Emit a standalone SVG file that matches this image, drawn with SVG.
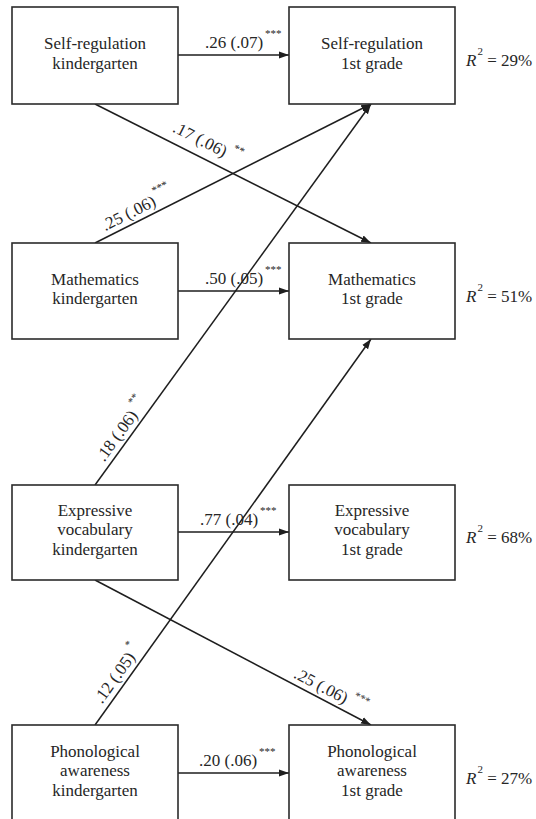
<svg xmlns="http://www.w3.org/2000/svg" width="536" height="819" viewBox="0 0 536 819">
<style>
.box{fill:#fff;stroke:#2b2b2b;stroke-width:1.6}
.t{font-family:'Liberation Serif',Tinos,'Times New Roman',Times,serif;font-size:17px;fill:#262626;text-anchor:middle}
.c{font-family:'Liberation Serif',Tinos,'Times New Roman',Times,serif;font-size:17px;fill:#262626}
.s{font-size:11px}
.i{font-style:italic}
.e{stroke:#1e1e1e;stroke-width:1.5;fill:none;marker-end:url(#ah)}
</style>
<defs>
<marker id="ah" markerUnits="userSpaceOnUse" markerWidth="11" markerHeight="9" refX="10" refY="4.5" orient="auto"><path d="M0,1 L10,4.5 L0,8z" fill="#1e1e1e"/></marker>
</defs>
<rect width="536" height="819" fill="#fff"/>

<g id="connectors">
<line class="e" x1="178" y1="55" x2="289" y2="55"/>
<line class="e" x1="178" y1="291" x2="289" y2="291"/>
<line class="e" x1="178" y1="532" x2="289" y2="532"/>
<line class="e" x1="178" y1="773" x2="289" y2="773"/>
<line class="e" x1="95" y1="104" x2="371" y2="243"/>
<line class="e" x1="95" y1="243" x2="371" y2="104"/>
<line class="e" x1="95" y1="485" x2="371" y2="104"/>
<line class="e" x1="95" y1="725" x2="371" y2="339"/>
<line class="e" x1="95" y1="580" x2="371" y2="725"/>
<text class="c" x="205" y="48">.26 (.07)<tspan class="s" dx="2" dy="-11">***</tspan></text>
<text class="c" x="205" y="284">.50 (.05)<tspan class="s" dx="2" dy="-11">***</tspan></text>
<text class="c" x="200" y="525">.77 (.04)<tspan class="s" dx="2" dy="-11">***</tspan></text>
<text class="c" x="199" y="766">.20 (.06)<tspan class="s" dx="2" dy="-11">***</tspan></text>
<text class="c" transform="translate(169,136.5) rotate(26.73)" x="0" y="-6">.17 (.06)<tspan class="s" dx="5" dy="-10">**</tspan></text>
<text class="c" transform="translate(108,236.5) rotate(-26.73)" x="0" y="-6">.25 (.06)<tspan class="s" dx="2" dy="-11">***</tspan></text>
<text class="c" transform="translate(109,466) rotate(-54.08)" x="0" y="-6">.18 (.06)<tspan class="s" dx="5" dy="-10">**</tspan></text>
<text class="c" transform="translate(107,708) rotate(-54.44)" x="0" y="-6">.12 (.05)<tspan class="s" dx="4" dy="-10">*</tspan></text>
<text class="c" transform="translate(290,682.5) rotate(27.72)" x="0" y="-6">.25 (.06)<tspan class="s" dx="5" dy="-10">***</tspan></text>
</g>

<g id="sr_k">
<rect class="box" x="12" y="7" width="166" height="97"/>
<text class="t" x="95" y="49">Self-regulation</text>
<text class="t" x="95" y="68.5">kindergarten</text>
</g>
<g id="sr_1">
<rect class="box" x="289" y="7" width="166" height="97"/>
<text class="t" x="372" y="49">Self-regulation</text>
<text class="t" x="372" y="68.5">1st grade</text>
<text class="c" x="466" y="66"><tspan class="i">R</tspan><tspan class="s" dx="1" dy="-11">2</tspan><tspan dy="11"> = 29%</tspan></text>
</g>
<g id="m_k">
<rect class="box" x="12" y="243" width="166" height="96"/>
<text class="t" x="95" y="284.5">Mathematics</text>
<text class="t" x="95" y="304">kindergarten</text>
</g>
<g id="m_1">
<rect class="box" x="289" y="243" width="166" height="96"/>
<text class="t" x="372" y="284.5">Mathematics</text>
<text class="t" x="372" y="304">1st grade</text>
<text class="c" x="466" y="302"><tspan class="i">R</tspan><tspan class="s" dx="1" dy="-11">2</tspan><tspan dy="11"> = 51%</tspan></text>
</g>
<g id="ev_k">
<rect class="box" x="12" y="485" width="166" height="95"/>
<text class="t" x="95" y="515.5">Expressive</text>
<text class="t" x="95" y="535">vocabulary</text>
<text class="t" x="95" y="554.5">kindergarten</text>
</g>
<g id="ev_1">
<rect class="box" x="289" y="485" width="166" height="95"/>
<text class="t" x="372" y="515.5">Expressive</text>
<text class="t" x="372" y="535">vocabulary</text>
<text class="t" x="372" y="554.5">1st grade</text>
<text class="c" x="466" y="543"><tspan class="i">R</tspan><tspan class="s" dx="1" dy="-11">2</tspan><tspan dy="11"> = 68%</tspan></text>
</g>
<g id="pa_k">
<rect class="box" x="12" y="725" width="166" height="97"/>
<text class="t" x="95" y="756.5">Phonological</text>
<text class="t" x="95" y="776">awareness</text>
<text class="t" x="95" y="795.5">kindergarten</text>
</g>
<g id="pa_1">
<rect class="box" x="289" y="725" width="166" height="97"/>
<text class="t" x="372" y="756.5">Phonological</text>
<text class="t" x="372" y="776">awareness</text>
<text class="t" x="372" y="795.5">1st grade</text>
<text class="c" x="466" y="784"><tspan class="i">R</tspan><tspan class="s" dx="1" dy="-11">2</tspan><tspan dy="11"> = 27%</tspan></text>
</g>
</svg>
